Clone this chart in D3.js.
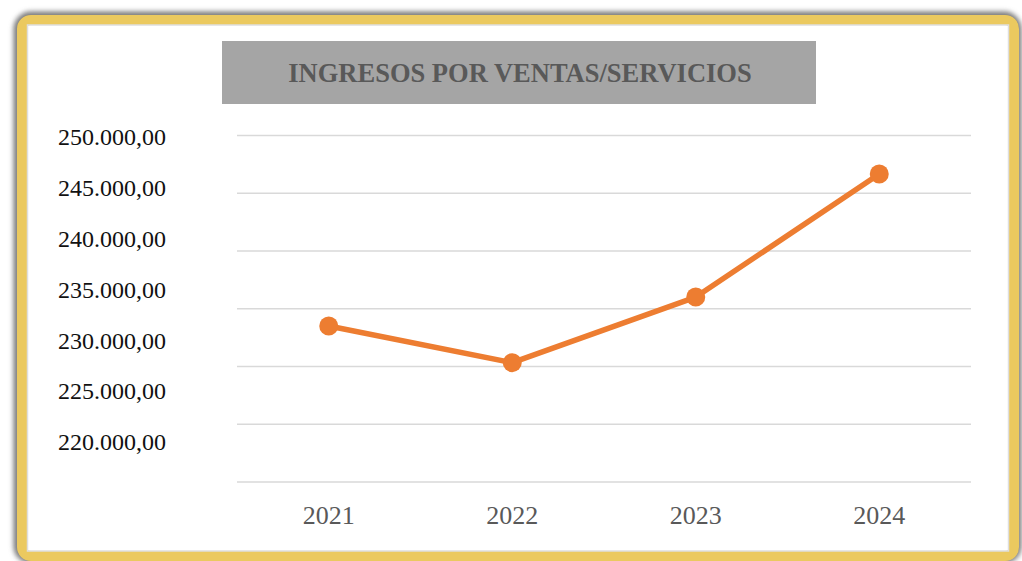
<!DOCTYPE html>
<html>
<head>
<meta charset="utf-8">
<script src="https://cdn.jsdelivr.net/npm/d3@7"></script>
<style>
  html, body { margin: 0; padding: 0; background: #ffffff; }
  svg { display: block; }
</style>
</head>
<body>
<svg id="chart" width="1022" height="561"></svg>
<script>
// ---- data ----
const title = "INGRESOS POR VENTAS/SERVICIOS";
const years = ["2021", "2022", "2023", "2024"];
const ingresos = [233460, 230290, 235970, 246620];
const yTicks = [220000, 225000, 230000, 235000, 240000, 245000, 250000];
const yTickLabels = ["220.000,00", "225.000,00", "230.000,00", "235.000,00", "240.000,00", "245.000,00", "250.000,00"];

const svg = d3.select("#chart");
const SERIF = "'Liberation Serif', 'Times New Roman', serif";

// ---- frame with glow + gold border ----
const defs = svg.append("defs");
defs.append("filter").attr("id", "blur")
  .attr("x", "-5%").attr("y", "-8%").attr("width", "110%").attr("height", "116%")
  .append("feGaussianBlur").attr("stdDeviation", 2.6);

svg.append("rect")
  .attr("x", 21).attr("y", 19).attr("width", 993).attr("height", 537)
  .attr("rx", 10).attr("ry", 10)
  .attr("fill", "none")
  .attr("stroke", "#7a7a7a").attr("stroke-width", 15)
  .attr("filter", "url(#blur)");

svg.append("rect")
  .attr("x", 22).attr("y", 20).attr("width", 992).attr("height", 536)
  .attr("rx", 9).attr("ry", 9)
  .attr("fill", "#ffffff")
  .attr("stroke", "#ebc95f").attr("stroke-width", 10);
svg.append("rect")
  .attr("x", 27.5).attr("y", 25).attr("width", 981).attr("height", 526)
  .attr("fill", "none").attr("stroke", "#dedede").attr("stroke-width", 1.5);

// ---- title ----
svg.append("rect")
  .attr("x", 222).attr("y", 41).attr("width", 594).attr("height", 63)
  .attr("fill", "#a5a5a5");
svg.append("text")
  .attr("x", 520).attr("y", 82)
  .attr("text-anchor", "middle")
  .attr("font-family", SERIF)
  .attr("font-weight", "bold")
  .attr("font-size", "26.5px")
  .attr("fill", "#595959")
  .text(title);

// ---- scales ----
const plotL = 237, plotR = 971, plotT = 135, plotB = 481.5;
const x = d3.scaleBand().domain(years).range([plotL, plotR]).padding(0);
const y = d3.scaleLinear().domain([220000, 250000]).range([plotB, plotT]);
// label positions as they appear in the reference (offset from gridlines)
const yLab = d3.scaleLinear().domain([220000, 250000]).range([442, 137]);

// gridlines
svg.append("g")
  .attr("transform", `translate(${plotL},0)`)
  .call(d3.axisLeft(y).tickValues(yTicks).tickSize(-(plotR - plotL)).tickFormat(""))
  .call(g => g.select(".domain").remove())
  .call(g => g.selectAll("line").attr("stroke", "#d9d9d9").attr("stroke-width", 1.6));

// y labels
svg.append("g")
  .attr("transform", `translate(166,0)`)
  .call(d3.axisLeft(yLab).tickValues(yTicks).tickSize(0).tickPadding(0)
    .tickFormat((d, i) => yTickLabels[i]))
  .attr("font-family", SERIF)
  .attr("font-size", 24)
  .call(g => g.select(".domain").remove())
  .call(g => g.selectAll("text").attr("fill", "#111111"));

// x labels
svg.append("g")
  .attr("transform", `translate(0,${plotB})`)
  .call(d3.axisBottom(x).tickSize(0).tickPadding(24))
  .attr("font-family", SERIF)
  .attr("font-size", 26)
  .call(g => g.select(".domain").remove())
  .call(g => g.selectAll("text").attr("fill", "#595959"));

// line
const cx = d => x(d) + x.bandwidth() / 2;
const line = d3.line().x((d, i) => cx(years[i])).y(d => y(d));
svg.append("path")
  .datum(ingresos)
  .attr("d", line)
  .attr("fill", "none")
  .attr("stroke", "#ed7d31")
  .attr("stroke-width", 5.5)
  .attr("stroke-linejoin", "round");

svg.append("g").selectAll("circle")
  .data(ingresos)
  .join("circle")
  .attr("cx", (d, i) => cx(years[i]))
  .attr("cy", d => y(d))
  .attr("r", 9.5)
  .attr("fill", "#ed7d31");
</script>
</body>
</html>
